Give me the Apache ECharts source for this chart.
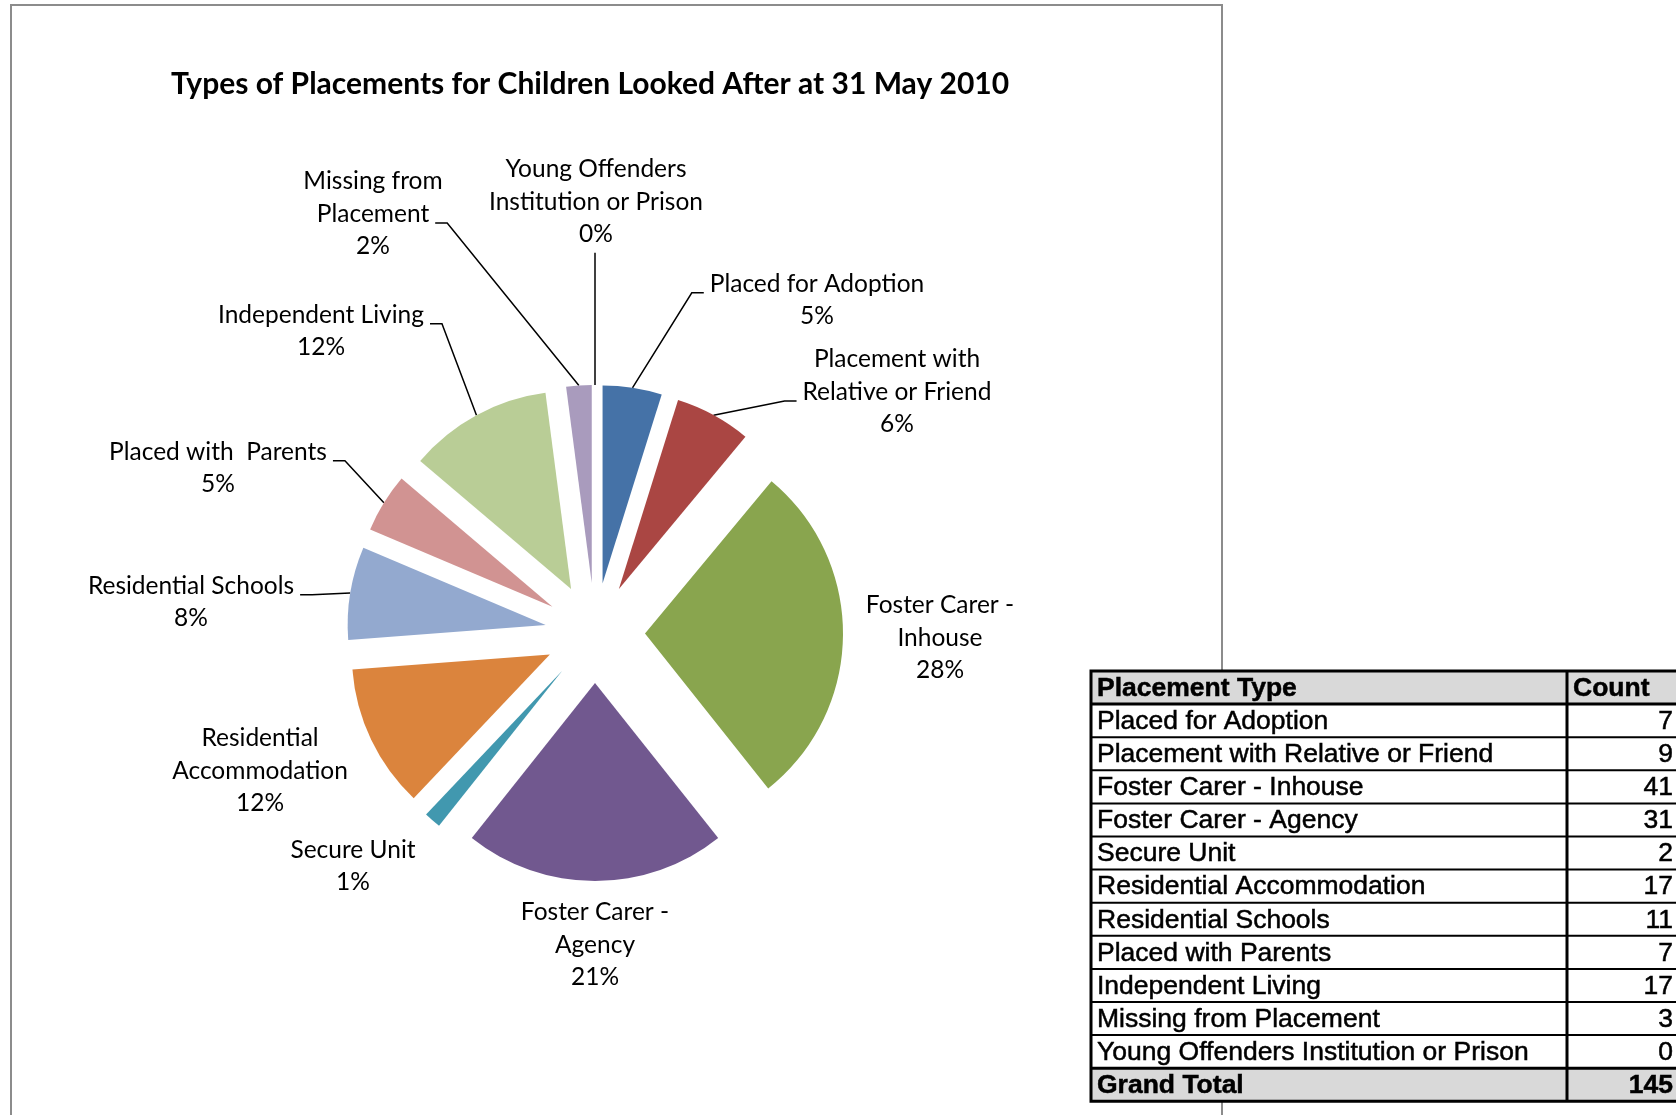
<!DOCTYPE html>
<html>
<head>
<meta charset="utf-8">
<title>Types of Placements for Children Looked After at 31 May 2010</title>
<script src="https://cdn.jsdelivr.net/npm/echarts@6/dist/echarts.min.js"></script>
<style>
  html, body { margin: 0; padding: 0; background: #fff; }
  #chart { width: 1676px; height: 1115px; }
</style>
</head>
<body>
<div id="chart"></div>
<script>
const categories = [
  'Placed for Adoption',
  'Placement with Relative or Friend',
  'Foster Carer - Inhouse',
  'Foster Carer - Agency',
  'Secure Unit',
  'Residential Accommodation',
  'Residential Schools',
  'Placed with Parents',
  'Independent Living',
  'Missing from Placement',
  'Young Offenders Institution or Prison'
]
const counts = [7, 9, 41, 31, 2, 17, 11, 7, 17, 3, 0]

// slice labels as Excel wrapped them
const wrappedNames = [
  'Placed for Adoption',
  'Placement with\nRelative or Friend',
  'Foster Carer -\nInhouse',
  'Foster Carer -\nAgency',
  'Secure Unit',
  'Residential\nAccommodation',
  'Residential Schools',
  'Placed with  Parents',
  'Independent Living',
  'Missing from\nPlacement',
  'Young Offenders\nInstitution or Prison'
]
const tableHeader = ['Placement Type', 'Count']
const totalLabel = 'Grand Total'

const colors = ['#4572A7', '#AA4643', '#89A54E', '#71588F', '#4198AF', '#DB843D',
  '#93A9CF', '#D19392', '#B9CD96', '#A99BBD', '#F79646']

// where each data label sits (centre of the text block) and if it gets a leader line
const labelSpots = [
  [817, 300, true], [897, 392, true], [940, 638, false], [595, 945, false],
  [353, 866, false], [260, 771, false], [191, 602, true], [218, 468, true],
  [321, 331, true], [373, 214, true], [596, 202, true]
]

const CX = 595, CY = 633, R = 198, EXPLODE = 50
const LABEL_FONT = 'Lato', LABEL_SIZE = 24.5, LINE_H = 32.5
const total = counts.reduce((a, b) => a + b, 0)

const measureCtx = document.createElement('canvas').getContext('2d')
function textWidth (str) {
  measureCtx.font = LABEL_SIZE + 'px ' + LABEL_FONT
  return measureCtx.measureText(str).width
}

// leader line from the middle of the (exploded) arc to the label edge
function leaderPoints (i) {
  let before = 0
  for (let k = 0; k < i; k++) before += counts[k]
  const mid = (before + counts[i] / 2) / total * Math.PI * 2
  const reach = R + EXPLODE
  const ax = CX + reach * Math.sin(mid)
  const ay = CY - reach * Math.cos(mid)
  const lx = labelSpots[i][0], ly = labelSpots[i][1]
  const lines = wrappedNames[i].split('\n')
  const nLines = lines.length + 1
  const top = ly - nLines * LINE_H / 2
  if (Math.abs(lx - ax) < 20) {
    return [[ax, ay], [ax, top + nLines * LINE_H + 2]]
  }
  const attachY = top + (lines.length - 0.5) * LINE_H + 9
  const side = lx < ax ? 1 : -1
  const ex = lx + side * (textWidth(lines[lines.length - 1]) / 2 + 6)
  const kx = ex + side * 12
  return [[ax, ay], [kx, attachY], [ex, attachY]]
}

// the exploded slices
const sliceData = categories.map((name, i) => ({ name: name, value: counts[i], selected: true }))
// same slices, not exploded and not painted: they only carry the labels
const labelData = categories.map((name, i) => ({ name: name, value: counts[i], labelLine: { show: labelSpots[i][2] } }))

// table to the right, built from the same arrays
const TBL = { x: 1091, y: 671, rowH: 33.1, splitX: 1567, right: 1686 }
function tableGraphics () {
  const rows = [tableHeader]
    .concat(categories.map((c, i) => [c, String(counts[i])]))
    .concat([[totalLabel, String(total)]])
  const els = []
  const h = rows.length * TBL.rowH
  els.push({ type: 'rect', z: 10, shape: { x: TBL.x, y: TBL.y, width: TBL.right - TBL.x, height: h }, style: { fill: '#fff' } })
  rows.forEach((row, r) => {
    const y = TBL.y + r * TBL.rowH
    const shaded = r === 0 || r === rows.length - 1
    if (shaded) {
      els.push({ type: 'rect', z: 11, shape: { x: TBL.x, y: y, width: TBL.right - TBL.x, height: TBL.rowH }, style: { fill: '#d9d9d9' } })
    }
    const font = {
      fontFamily: 'Liberation Sans', fontSize: 26.5, fontWeight: shaded ? 'bold' : 'normal',
      fill: '#000', stroke: '#000', lineWidth: 0.5, verticalAlign: 'middle'
    }
    els.push({ type: 'text', z: 13, x: TBL.x + 6, y: y + TBL.rowH / 2 + 1, style: Object.assign({ text: row[0], align: 'left' }, font) })
    if (r === 0) {
      els.push({ type: 'text', z: 13, x: TBL.splitX + 6, y: y + TBL.rowH / 2 + 1, style: Object.assign({ text: row[1], align: 'left' }, font) })
    } else {
      els.push({ type: 'text', z: 13, x: 1673, y: y + TBL.rowH / 2 + 1, style: Object.assign({ text: row[1], align: 'right' }, font) })
    }
    if (r > 0) {
      const thick = r === 1 || r === rows.length - 1
      els.push({ type: 'line', z: 12, shape: { x1: TBL.x, y1: y, x2: TBL.right, y2: y }, style: { stroke: '#000', lineWidth: thick ? 3 : 2 } })
    }
  })
  els.push({ type: 'line', z: 12, shape: { x1: TBL.splitX, y1: TBL.y, x2: TBL.splitX, y2: TBL.y + h }, style: { stroke: '#000', lineWidth: 3 } })
  els.push({ type: 'rect', z: 12, shape: { x: TBL.x, y: TBL.y, width: TBL.right - TBL.x, height: h }, style: { fill: 'none', stroke: '#000', lineWidth: 3 } })
  return els
}

const chart = echarts.init(document.getElementById('chart'), null, { renderer: 'canvas' })
chart.setOption({
  animation: false,
  backgroundColor: '#fff',
  color: colors,
  title: {
    text: 'Types of Placements for Children Looked After at 31 May 2010',
    left: 585,
    top: 64,
    textAlign: 'center',
    textStyle: { fontFamily: 'Lato', fontWeight: 'bold', fontSize: 30, color: '#000' }
  },
  graphic: [
    { type: 'rect', z: -1, shape: { x: 11, y: 5, width: 1211, height: 1200 }, style: { fill: 'none', stroke: '#8c8c8c', lineWidth: 2 } }
  ].concat(tableGraphics()),
  series: [{
    type: 'pie',
    center: [CX, CY],
    radius: R,
    startAngle: 90,
    clockwise: true,
    selectedMode: 'multiple',
    selectedOffset: EXPLODE,
    label: { show: false },
    labelLine: { show: false },
    itemStyle: { borderWidth: 0 },
    select: { itemStyle: { borderWidth: 0 } },
    emphasis: { disabled: true },
    data: sliceData
  }, {
    type: 'pie',
    center: [CX, CY],
    radius: R,
    startAngle: 90,
    clockwise: true,
    silent: true,
    selectedMode: false,
    avoidLabelOverlap: false,
    itemStyle: { color: 'rgba(0,0,0,0)', borderWidth: 0 },
    emphasis: { disabled: true },
    label: {
      show: true,
      position: 'outside',
      fontFamily: LABEL_FONT,
      fontSize: LABEL_SIZE,
      lineHeight: LINE_H,
      color: '#000',
      align: 'center',
      formatter: p => wrappedNames[p.dataIndex] + '\n' + Math.round(p.value / total * 100) + '%'
    },
    labelLine: { lineStyle: { color: '#000', width: 1.5 } },
    labelLayout: p => ({
      x: labelSpots[p.dataIndex][0],
      y: labelSpots[p.dataIndex][1],
      align: 'center',
      verticalAlign: 'middle',
      labelLinePoints: leaderPoints(p.dataIndex)
    }),
    data: labelData
  }]
})
</script>
</body>
</html>
